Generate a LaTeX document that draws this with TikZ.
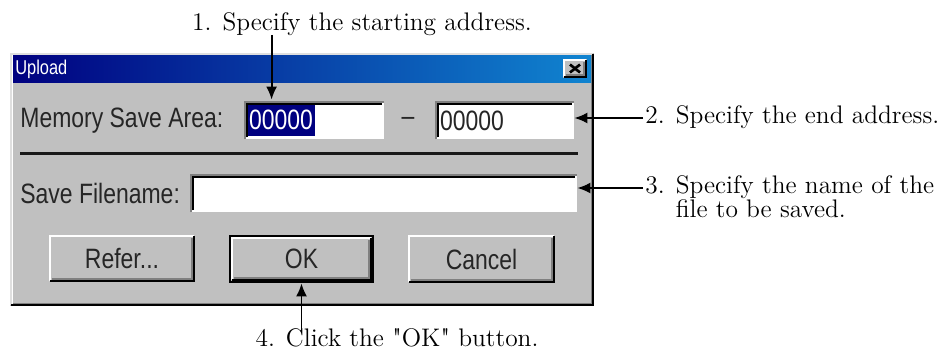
\documentclass[tikz,border=0pt]{standalone}
\usepackage{fontspec}
\newfontfamily\uifont[FakeStretch=0.82]{Liberation Sans}
\newfontfamily\lmplain{lmroman10-regular.otf}
\usetikzlibrary{calc}
\usetikzlibrary{positioning}
\usetikzlibrary{arrows.meta}
\definecolor{winbg}{RGB}{192,192,192}
\definecolor{winshadow}{RGB}{128,128,128}
\definecolor{winlight}{RGB}{223,223,223}
\definecolor{titleL}{RGB}{0,0,128}
\definecolor{titleR}{RGB}{16,132,208}
\definecolor{selnavy}{RGB}{0,0,128}
\tikzstyle{callout} = [font=\fontsize{12.7}{15}\selectfont, text height=1.5ex, text depth=.25ex, inner sep=1pt]
\tikzstyle{uilabel} = [font=\uifont\fontsize{14}{16}\selectfont, text=black!85, inner sep=0pt]
\tikzstyle{field} = [fill=white, inner sep=0pt, minimum height=19pt]
\tikzstyle{button} = [fill=winbg, uilabel, minimum width=73pt, minimum height=23.5pt]
\tikzstyle{pointer} = [-{Latex[length=6.5pt,width=5.5pt]}, line width=0.9pt]

\begin{document}
\begin{tikzpicture}[x=0.5pt, y=-0.5pt]
    \useasboundingbox (0,0) rectangle (946,353);

    % dialog window
    \fill[winbg] (10,53) rectangle (594,306);
    \draw[winlight, line width=1pt] (11,305) -- (11,54) -- (593,54);
    \draw[black, line width=1pt] (11,305) -- (593,305) -- (593,54);
    \draw[white, line width=0.5pt] (12.5,303.5) -- (12.5,55.5) -- (591.5,55.5);
    \draw[winshadow, line width=0.5pt] (12.5,303.5) -- (591.5,303.5) -- (591.5,55.5);
    \shade[left color=titleL, right color=titleR] (13,56) rectangle (591,83);
    \node[anchor=west, text=white, font=\uifont\fontsize{10}{12}\selectfont, inner sep=0pt] (title) at (15,69.5) {Upload};
    \node[button, minimum width=12pt, minimum height=9.5pt] (close) at (575,68.5) {};

    % widgets
    \node[uilabel, anchor=west] (lblmem) at (20,121) {Memory Save Area:};
    \node[field, minimum width=70pt] (f1) at (314,120) {};
    \node[uilabel, anchor=west, fill=selnavy, text=white, inner sep=1pt, minimum height=16pt] (sel) at ($(f1.west)+(3,0)$) {00000};
    \node[uilabel] (dash) at (408,121) {–};
    \node[field, minimum width=69.5pt] (f2) at (504.5,120) {};
    \node[uilabel, anchor=west] (endval) at ($(f2.west)+(5,1)$) {00000};
    \draw[black!90, line width=1.5pt] (20,153) -- (578,153);
    \node[uilabel, anchor=west] (lblfile) at (20,193) {Save Filename:};
    \node[field, minimum width=193.5pt] (f3) at (383.5,193) {};

    \node[button] (btnrefer) at (122,258.5) {Refer...};
    \node[button, minimum width=72.5pt, minimum height=24pt] (btnok) at (301.5,259) {OK};
    \node[button, minimum width=73.5pt, minimum height=24pt] (btncancel) at (481.5,259) {Cancel};

    \foreach \f in {f1,f2,f3} {
        \draw[white, line width=1pt] ($(\f.south west)+(0,-1)$) -- ($(\f.south east)+(-1,-1)$) -- ($(\f.north east)+(-1,0)$);
        \draw[winshadow, line width=1pt] ($(\f.south west)+(1,0)$) -- ($(\f.north west)+(1,1)$) -- ($(\f.north east)+(0,1)$);
        \draw[black, line width=1pt] ($(\f.south west)+(3,-2)$) -- ($(\f.north west)+(3,3)$) -- ($(\f.north east)+(-2,3)$);
    }
    \foreach \b in {btnrefer,btncancel,close} {
        \draw[white, line width=1pt] ($(\b.south west)+(1,-1)$) |- ($(\b.north east)+(-1,1)$);
        \draw[black, line width=1pt] ($(\b.south west)+(1,-1)$) -| ($(\b.north east)+(-1,1)$);
        \draw[winshadow, line width=1pt] ($(\b.south west)+(3,-3)$) -| ($(\b.north east)+(-3,3)$);
    }
    \draw[black, line width=1pt] ($(btnok.south west)+(1,-1)$) rectangle ($(btnok.north east)+(-1,1)$);
    \draw[white, line width=1pt] ($(btnok.south west)+(3,-3)$) |- ($(btnok.north east)+(-3,3)$);
    \draw[black, line width=1pt] ($(btnok.south west)+(3,-3)$) -| ($(btnok.north east)+(-3,3)$);
    \draw[winshadow, line width=1pt] ($(btnok.south west)+(5,-5)$) -| ($(btnok.north east)+(-5,5)$);
    \draw[black, line width=1.3pt] ($(close.center)+(-5,-4)$) -- ($(close.center)+(5,4)$);
    \draw[black, line width=1.3pt] ($(close.center)+(-5,4)$) -- ($(close.center)+(5,-4)$);

    % callouts
    \node[callout] (step1) at (362,25) {1. Specify the starting address.};
    \node[callout, anchor=west] (step2) at (643,118) {2. Specify the end address.};
    \node[callout, anchor=west] (step3) at (643,188) {3. Specify the name of the};
    \node[callout, anchor=base west] (step3b) at ($(step3.base west)+(0,24)$) {\hphantom{3. }file to be saved.};
    \node[callout] (step4) at (397,341) {4. Click the {\lmplain"}OK{\lmplain"} button.};

    \coordinate (tip1) at ($(f1.north west)+(28,-1)$);
    \draw[pointer] (tip1 |- step1.south) -- (tip1);
    \draw[pointer] (step2.west) -- (step2.west -| f2.east);
    \draw[pointer] (step3.west) -- (step3.west -| f3.east);
    \draw[pointer] (step4.north -| btnok.south) -- (btnok.south);
\end{tikzpicture}
\end{document}
